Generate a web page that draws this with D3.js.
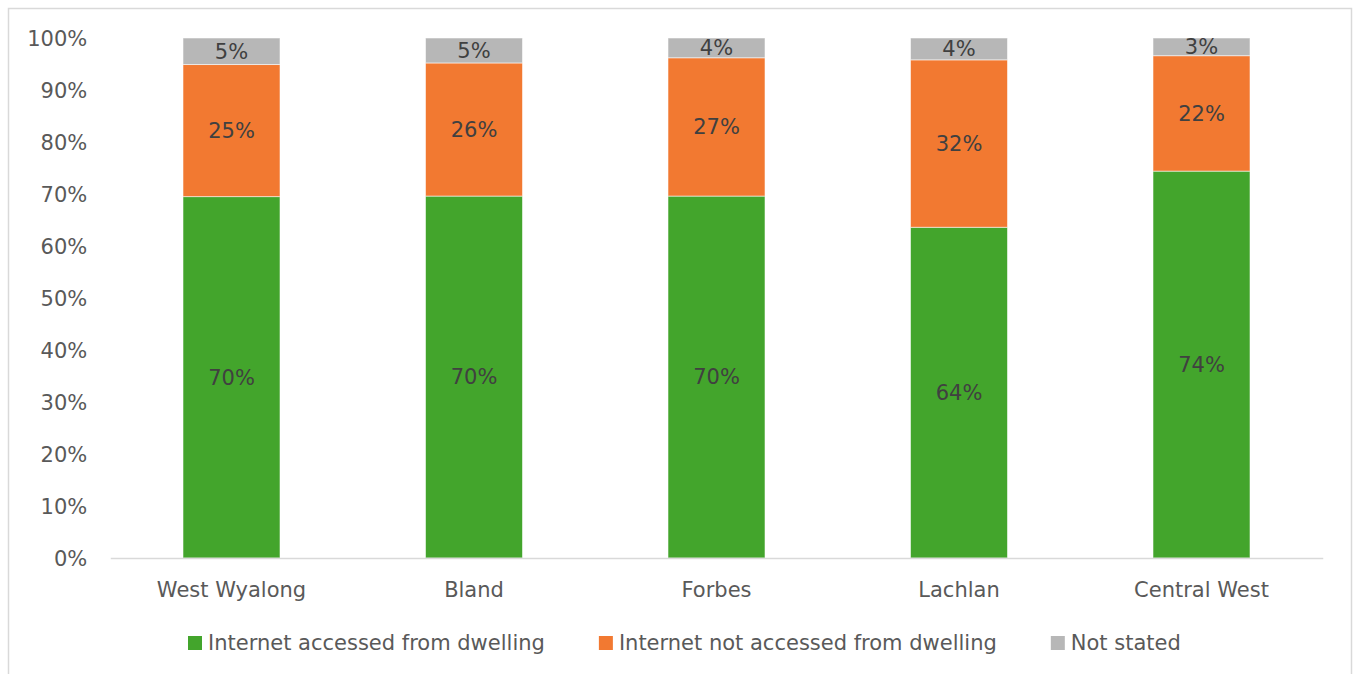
<!DOCTYPE html>
<html>
<head>
<meta charset="utf-8">
<script src="https://cdn.jsdelivr.net/npm/d3@7"></script>
<style>
  html, body { margin: 0; padding: 0; background: #fff; }
  svg { display: block; font-family: "DejaVu Sans", Verdana, sans-serif; }
</style>
</head>
<body>
<svg id="chart" width="1354" height="674"></svg>
<script>
// Internet access at dwelling, share of private dwellings (%)
const categories = ["West Wyalong", "Bland", "Forbes", "Lachlan", "Central West"];
const seriesNames = ["Internet accessed from dwelling", "Internet not accessed from dwelling", "Not stated"];
const accessed    = [69.5, 69.6, 69.6, 63.6, 74.4];
const notAccessed = [25.4, 25.6, 26.6, 32.2, 22.2];
const notStated   = [5.1, 4.8, 3.8, 4.2, 3.4];
const yTicks = [0, 10, 20, 30, 40, 50, 60, 70, 80, 90, 100];
const colors = ["#43a52c", "#f27931", "#b7b7b7"];

const svg = d3.select("#chart");
const W = 1354, H = 674;

// chart area border
svg.append("rect")
  .attr("x", 8.5).attr("y", 8.5)
  .attr("width", 1343).attr("height", 680)
  .attr("fill", "#fff").attr("stroke", "#d9d9d9").attr("stroke-width", 1.5);

const plot = { left: 110.25, right: 1322.75, top: 38, bottom: 558 };

const x = d3.scaleBand()
  .domain(categories)
  .range([plot.left, plot.right])
  .paddingInner(0.6)
  .paddingOuter(0.3);

const y = d3.scaleLinear().domain([0, 100]).range([plot.bottom, plot.top]);

const rows = categories.map((c, i) => ({
  category: c, s0: accessed[i], s1: notAccessed[i], s2: notStated[i]
}));
const stack = d3.stack().keys(["s0", "s1", "s2"]);
const layers = stack(rows);

// y axis labels (no line, no ticks)
const yAxis = d3.axisLeft(y).tickValues(yTicks).tickFormat(d => d + "%").tickSize(0).tickPadding(0);
const yg = svg.append("g").attr("transform", `translate(${plot.left - 23},0)`).call(yAxis);
yg.select(".domain").remove();
yg.selectAll("text")
  .attr("fill", "#595959").attr("font-size", 21)
  .attr("font-family", "DejaVu Sans, Verdana, sans-serif")
  .attr("dy", "0.35em");

// bars
const g = svg.append("g");
layers.forEach((layer, k) => {
  g.selectAll(null).data(layer).enter().append("rect")
    .attr("x", d => x(d.data.category))
    .attr("width", x.bandwidth())
    .attr("y", d => y(d[1]))
    .attr("height", d => y(d[0]) - y(d[1]))
    .attr("fill", colors[k])
    .attr("stroke", "rgba(255,255,255,0.55)")
    .attr("stroke-width", 1);
});

// x axis baseline and category labels
const xAxis = d3.axisBottom(x).tickSize(0).tickPadding(0);
const xg = svg.append("g").attr("transform", `translate(0,${plot.bottom})`).call(xAxis);
xg.select(".domain").attr("stroke", "#d9d9d9").attr("stroke-width", 1.5);
xg.selectAll("text")
  .attr("fill", "#595959").attr("font-size", 21)
  .attr("font-family", "DejaVu Sans, Verdana, sans-serif")
  .attr("y", 32).attr("dy", "0.35em");

// data labels centred in each segment
layers.forEach((layer) => {
  g.selectAll(null).data(layer).enter().append("text")
    .attr("x", d => x(d.data.category) + x.bandwidth() / 2)
    .attr("y", d => (y(d[0]) + y(d[1])) / 2)
    .attr("dy", "0.35em")
    .attr("text-anchor", "middle")
    .attr("font-size", 21)
    .attr("fill", "#404040")
    .text(d => Math.round(d[1] - d[0]) + "%");
});

// legend
const legend = svg.append("g").attr("transform", "translate(0,643)");
let cursor = 188;
seriesNames.forEach((name, k) => {
  const item = legend.append("g").attr("transform", `translate(${cursor},0)`);
  item.append("rect").attr("x", 0).attr("y", -7).attr("width", 14).attr("height", 14).attr("fill", colors[k]);
  const t = item.append("text")
    .attr("x", 20).attr("y", 0).attr("dy", "0.35em")
    .attr("font-size", 21).attr("fill", "#595959")
    .text(name);
  cursor += 20 + t.node().getComputedTextLength() + 54;
});
</script>
</body>
</html>
